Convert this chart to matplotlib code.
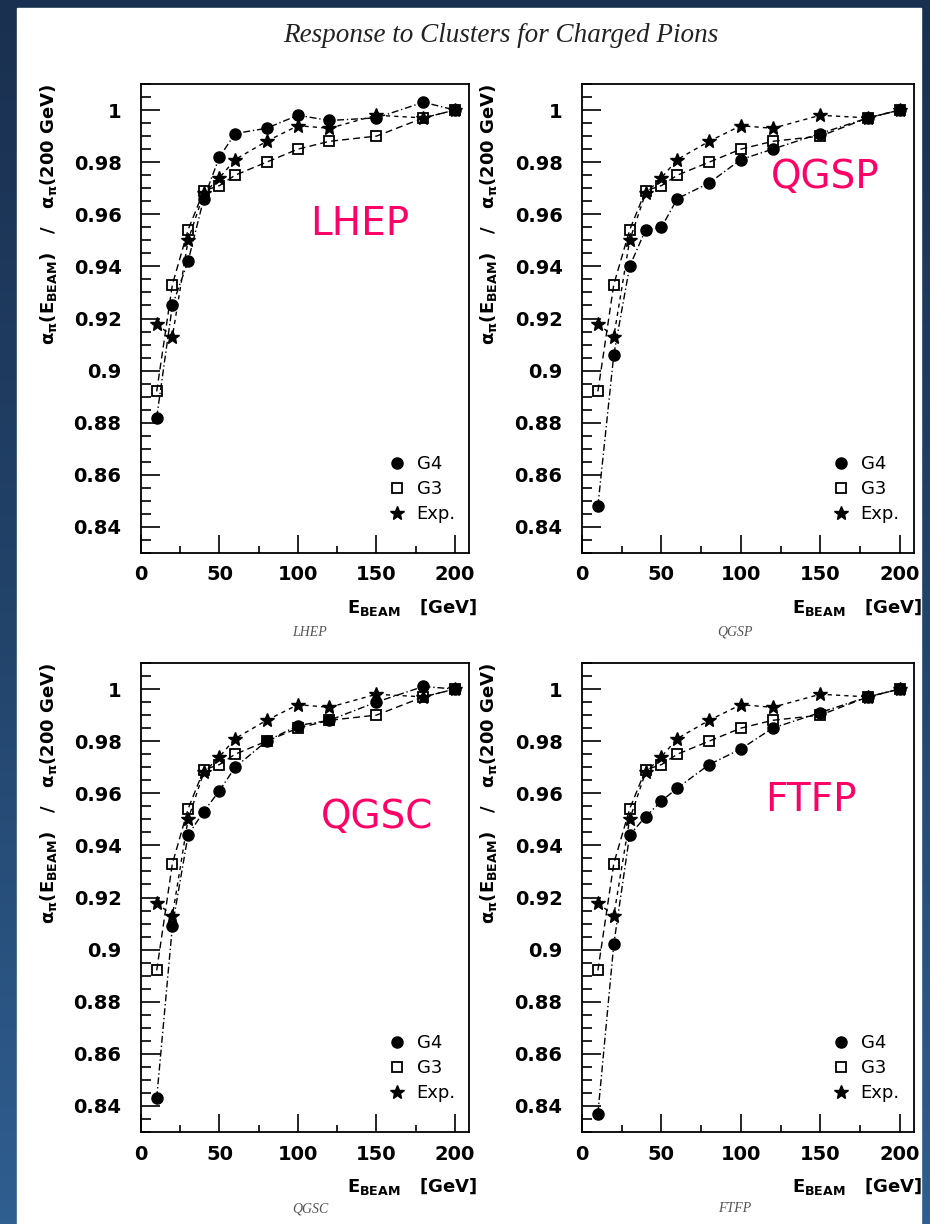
import numpy as np
import matplotlib
matplotlib.use("Agg")
import matplotlib.pyplot as plt
from matplotlib.colors import LinearSegmentedColormap
from matplotlib.patches import Rectangle
from matplotlib.lines import Line2D
from matplotlib.ticker import MultipleLocator, FuncFormatter

# beam energies (GeV)
energy = [10, 20, 30, 40, 50, 60, 80, 100, 120, 150, 180, 200]

# response normalised to 200 GeV
g3 = [0.892, 0.933, 0.954, 0.969, 0.971, 0.975, 0.980, 0.985, 0.988, 0.990, 0.997, 1.000]
exp_data = [0.918, 0.913, 0.950, 0.968, 0.974, 0.981, 0.988, 0.994, 0.993, 0.998, 0.997, 1.000]
g4_lhep = [0.882, 0.925, 0.942, 0.966, 0.982, 0.991, 0.993, 0.998, 0.996, 0.997, 1.003, 1.000]
g4_qgsp = [0.848, 0.906, 0.940, 0.954, 0.955, 0.966, 0.972, 0.981, 0.985, 0.991, 0.997, 1.000]
g4_qgsc = [0.843, 0.909, 0.944, 0.953, 0.961, 0.970, 0.980, 0.986, 0.988, 0.995, 1.001, 1.000]
g4_ftfp = [0.837, 0.902, 0.944, 0.951, 0.957, 0.962, 0.971, 0.977, 0.985, 0.991, 0.997, 1.000]

models = ["LHEP", "QGSP", "QGSC", "FTFP"]
g4_all = [g4_lhep, g4_qgsp, g4_qgsc, g4_ftfp]
legend_labels = ["G4", "G3", "Exp."]

title = "Response to Clusters for Charged Pions"

W, H = 930, 1224
plt.rcParams["mathtext.fontset"] = "custom"
plt.rcParams["mathtext.rm"] = "DejaVu Sans:bold"
plt.rcParams["mathtext.it"] = "DejaVu Sans:bold"
plt.rcParams["mathtext.bf"] = "DejaVu Sans:bold"

fig = plt.figure(figsize=(W / 100, H / 100), dpi=100)

# dark blue slide background + white page
bg = fig.add_axes([0, 0, 1, 1], zorder=-10)
cmap = LinearSegmentedColormap.from_list("slide", ["#1a3050", "#22436a", "#2f5e90"])
grad = np.linspace(0, 1, 256).reshape(-1, 1)
bg.imshow(grad, aspect="auto", cmap=cmap, extent=[0, 1, 0, 1], origin="upper")
bg.add_patch(Rectangle((17 / W, 0), (921 - 17) / W, 1 - 8 / H,
                       transform=bg.transAxes, color="white", zorder=2))
bg.set_xlim(0, 1)
bg.set_ylim(0, 1)
bg.axis("off")

fig.text(501 / W, 1 - 36 / H, title, ha="center", va="center",
         family="Liberation Serif", style="italic", fontsize=19.5, color="#222222")


def px_axes(x0, y0, x1, y1):
    return fig.add_axes([x0 / W, 1 - y1 / H, (x1 - x0) / W, (y1 - y0) / H])


boxes = [(141, 84, 469, 553), (582, 84, 914, 553),
         (141, 663, 469, 1132), (582, 663, 914, 1132)]
label_pos = [(360, 224), (825, 177), (377, 817), (811, 800)]
caption_pos = [(310, 632), (735, 632), (310, 1209), (735, 1209)]

for i, model in enumerate(models):
    x0, y0, x1, y1 = boxes[i]
    ax = px_axes(x0, y0, x1, y1)

    ax.plot(energy, exp_data, color="black", lw=1.0, ls=(0, (3, 3)),
            marker="*", ms=10, mfc="black", mec="black", zorder=3)
    ax.plot(energy, g3, color="black", lw=1.0, ls=(0, (5, 3)),
            marker="s", ms=7.5, mfc="none", mec="black", mew=1.3, zorder=4)
    ax.plot(energy, g4_all[i], color="black", lw=1.0, ls=(0, (5, 2, 1, 2)),
            marker="o", ms=8, mfc="black", mec="black", zorder=5)

    ax.set_xlim(0, 209)
    ax.set_ylim(0.83, 1.01)
    ax.xaxis.set_major_locator(MultipleLocator(50))
    ax.xaxis.set_minor_locator(MultipleLocator(25))
    ax.yaxis.set_major_locator(MultipleLocator(0.02))
    ax.yaxis.set_minor_locator(MultipleLocator(0.005))
    ax.yaxis.set_major_formatter(FuncFormatter(lambda v, p: "%g" % round(v, 3)))
    ax.xaxis.set_major_formatter(FuncFormatter(lambda v, p: "%g" % v))

    ax.tick_params(axis="both", which="both", direction="in", top=False, right=False,
                   width=1.2, labelsize=14)
    ax.tick_params(axis="y", which="major", length=14, pad=14)
    ax.tick_params(axis="y", which="minor", length=7.5)
    ax.tick_params(axis="x", which="major", length=13, pad=9)
    ax.tick_params(axis="x", which="minor", length=5)
    for lab in ax.get_xticklabels() + ax.get_yticklabels():
        lab.set_fontweight("bold")
    for sp in ax.spines.values():
        sp.set_linewidth(1.3)

    ax.set_ylabel(r"$\alpha_{\pi}(E_{BEAM})$   /   $\alpha_{\pi}$(200 GeV)",
                  fontsize=13, fontweight="bold", loc="top")
    ax.yaxis.set_label_coords(-0.25, 1.0)
    ax.set_xlabel(r"$E_{BEAM}$   [GeV]", fontsize=13, fontweight="bold", loc="right")
    ax.xaxis.set_label_coords(1.025, -0.093)

    handles = [
        Line2D([], [], ls="none", marker="o", ms=8, mfc="black", mec="black"),
        Line2D([], [], ls="none", marker="s", ms=7.5, mfc="none", mec="black", mew=1.3),
        Line2D([], [], ls="none", marker="*", ms=10, mfc="black", mec="black"),
    ]
    ax.legend(handles, legend_labels, loc="lower left", bbox_to_anchor=(0.725, 0.045),
              frameon=False, fontsize=13, handlelength=1.0, handletextpad=0.6,
              labelspacing=0.38, borderpad=0)

    lx, ly = label_pos[i]
    fig.text(lx / W, 1 - ly / H, model, ha="center", va="center",
             fontsize=28, color="#ff0066")
    cx, cy = caption_pos[i]
    fig.text(cx / W, 1 - cy / H, model, ha="center", va="center",
             family="Liberation Serif", style="italic", fontsize=10, color="#555555")

fig.savefig("out.png", dpi=100)
